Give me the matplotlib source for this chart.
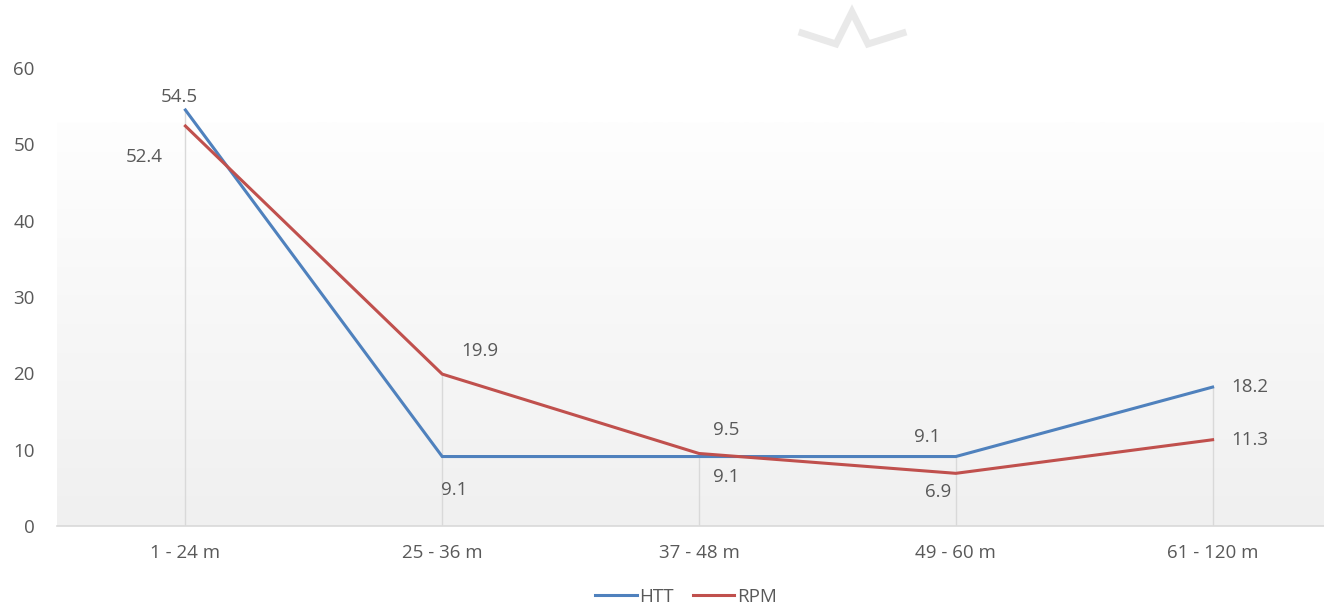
import numpy as np
import matplotlib
matplotlib.use('Agg')
import matplotlib.pyplot as plt
from matplotlib.lines import Line2D

categories = ['1 - 24 m', '25 - 36 m', '37 - 48 m', '49 - 60 m', '61 - 120 m']
htt = [54.5, 9.1, 9.1, 9.1, 18.2]
rpm = [52.4, 19.9, 9.5, 6.9, 11.3]

# label offsets in pixels (dx, dy) for each point
htt_offsets = [(-6, 13), (12, -33), (27, -20), (-29, 20), (37, 0)]
rpm_offsets = [(-41, -31), (38, 23), (27, 23), (-18, -19), (37, 0)]

blue = '#4F81BD'
red = '#C0504D'
text_col = '#595959'

plt.rcParams['font.family'] = ['Open Sans', 'DejaVu Sans']

fig = plt.figure(figsize=(13.24, 6.07), dpi=100)
ax = fig.add_axes([57 / 1324, 1 - 526 / 607, (1341 - 57) / 1324, (526 - 68) / 607])

x = np.arange(len(categories))
ax.set_xlim(-0.5, len(categories) - 0.5)
ax.set_ylim(0, 60)

# soft vertical gradient behind the plot area
grad = np.linspace(0, 1, 256).reshape(-1, 1)
cmap = matplotlib.colors.LinearSegmentedColormap.from_list('bg', ['#f0f0f0', '#fefefe'])
ax.imshow(grad, extent=(-0.5, len(categories) - 0.5, 0, 52.8), origin='lower',
          aspect='auto', cmap=cmap, zorder=0)

# drop lines from the axis to the higher series
for xi, a, b in zip(x, htt, rpm):
    ax.plot([xi, xi], [0, max(a, b)], color='#d9d9d9', lw=1, zorder=1)

ax.plot(x, htt, color=blue, lw=2.2, zorder=3, solid_joinstyle='miter')
ax.plot(x, rpm, color=red, lw=2.2, zorder=3, solid_joinstyle='miter')

px = 72 / fig.dpi
for xi, v, (dx, dy) in zip(x, htt, htt_offsets):
    ax.annotate(f'{v:.1f}', (xi, v), xytext=(dx * px, dy * px), textcoords='offset points',
                ha='center', va='center', fontsize=13.5, color=text_col)
for xi, v, (dx, dy) in zip(x, rpm, rpm_offsets):
    ax.annotate(f'{v:.1f}', (xi, v), xytext=(dx * px, dy * px), textcoords='offset points',
                ha='center', va='center', fontsize=13.5, color=text_col)

ax.set_xticks(x)
ax.set_xticklabels(categories)
ax.set_yticks(range(0, 61, 10))
ax.tick_params(axis='both', length=0, labelsize=13.5, labelcolor=text_col)
ax.tick_params(axis='x', pad=13)
ax.tick_params(axis='y', pad=16)
for s in ['top', 'right', 'left']:
    ax.spines[s].set_visible(False)
ax.spines['bottom'].set_color('#d9d9d9')
ax.spines['bottom'].set_linewidth(1.2)
ax.set_facecolor('white')

handles = [Line2D([], [], color=blue, lw=2.2), Line2D([], [], color=red, lw=2.2)]
fig.legend(handles, ['HTT', 'RPM'], loc='center', bbox_to_anchor=(686 / 1324, 1 - 597 / 607),
           ncol=2, frameon=False, fontsize=13.5, labelcolor=text_col,
           handlelength=2.2, handletextpad=0.15, columnspacing=1.0)

# faint crown mark at the top
cx = np.array([802, 836, 852, 868, 903]) / 1324
cy = 1 - np.array([33, 44, 12, 44, 33]) / 607
fig.add_artist(Line2D(cx, cy, color='#e9e9e9', lw=5, solid_joinstyle='miter'))

fig.savefig('out.png', dpi=100)
